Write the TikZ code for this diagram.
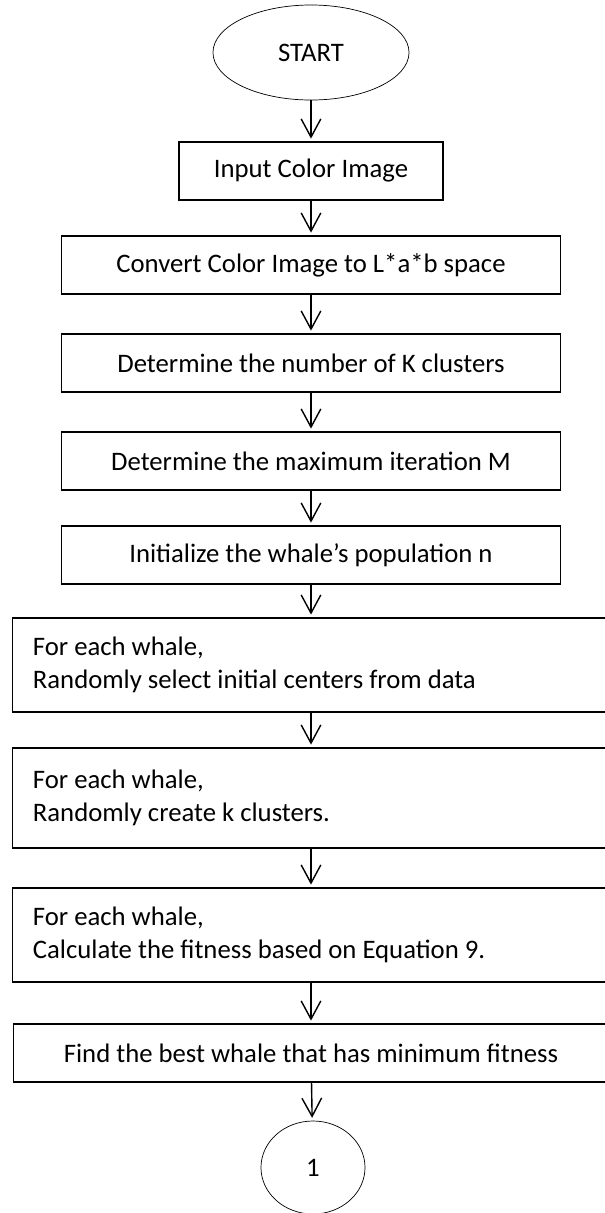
\documentclass[tikz,border=0pt]{standalone}
\usepackage{fontspec}
\setmainfont{Carlito}
\usetikzlibrary{shapes.geometric,arrows.meta}

\tikzset{
  terminal/.style={draw,ellipse,line width=0.5pt,inner sep=0pt},
  process/.style={draw,rectangle,line width=0.8pt,inner sep=0pt,minimum height=1.45cm},
  loopbox/.style={draw,rectangle,line width=0.8pt,inner xsep=0.5cm,inner ysep=0pt,
    text width=13.9cm,align=flush left},
  flowarrow/.style={line width=1pt,-{Straight Barb[length=13pt,width=14pt,line width=1pt]},
    shorten >=2pt}
}

\begin{document}
\begin{tikzpicture}[x=0.025cm,y=-0.025cm,font=\fontsize{19}{23.5}\selectfont]
			\useasboundingbox (0,0) rectangle (605,1213);
			% terminals and steps
			\node[terminal,minimum width=4.9cm,minimum height=2.375cm] (start) at (311,52.5) {START};
			\node[process,minimum width=6.6cm] (input) at (311,171) {Input Color Image};
			\node[process,minimum width=12.475cm] (convert) at (311,265) {Convert Color Image to L*a*b space};
			\node[process,minimum width=12.475cm] (clusters) at (311,363) {Determine the number of K clusters};
			\node[process,minimum width=12.475cm] (maxiter) at (311,461) {Determine the maximum iteration M};
			\node[process,minimum width=12.475cm] (population) at (311,555) {Initialize the whale’s population n};

			% per-whale steps
			\node[loopbox,minimum height=2.35cm] (select) at (311,665) {For each whale,\\Randomly select initial centers from data};
			\node[loopbox,minimum height=2.5cm] (create) at (311,798) {For each whale,\\Randomly create k clusters.};
			\node[loopbox,minimum height=2.35cm] (fitness) at (311,935) {For each whale,\\Calculate the fitness based on Equation 9.};

			\node[process,minimum width=14.85cm] (best) at (311,1053) {Find the best whale that has minimum fitness};
			\node[terminal,minimum width=2.6cm,minimum height=2.325cm] (one) at (313,1167.5) {1};

			% connectors
			\foreach \a/\b in {start/input,input/convert,convert/clusters,clusters/maxiter,
			  maxiter/population,population/select,select/create,create/fitness,fitness/best,best/one}
			  \draw[flowarrow] (\a) -- (\b);
\end{tikzpicture}
\end{document}
